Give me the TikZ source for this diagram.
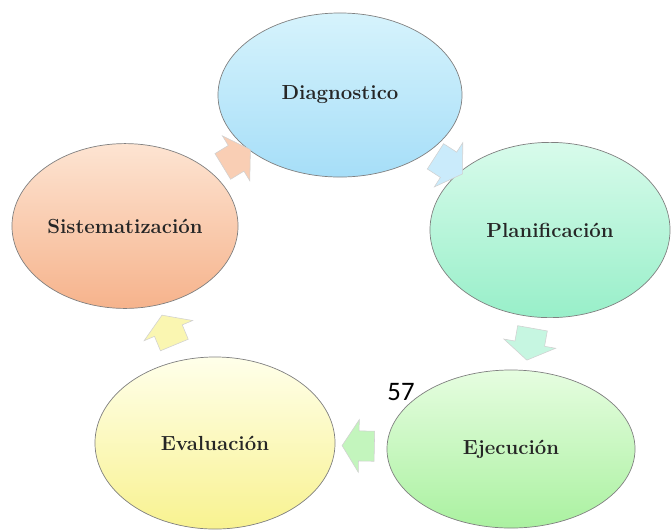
\documentclass[tikz,border=0pt]{standalone}
\usepackage{fontspec}
\newfontfamily\pagefont{Carlito}
\usetikzlibrary{shapes.geometric,shapes.arrows,calc}
\definecolor{diagtop}{HTML}{D6F3FC}
\definecolor{diagbot}{HTML}{A6DEF8}
\definecolor{plantop}{HTML}{D8FBEB}
\definecolor{planbot}{HTML}{98EFC9}
\definecolor{ejectop}{HTML}{E6FDE0}
\definecolor{ejecbot}{HTML}{AAF1A0}
\definecolor{evaltop}{HTML}{FFFFEA}
\definecolor{evalbot}{HTML}{F8F290}
\definecolor{sisttop}{HTML}{FDE4D2}
\definecolor{sistbot}{HTML}{F6B38C}
\tikzstyle{phase}=[ellipse, draw=black!50, line width=0.5pt, inner sep=0pt, font=\fontsize{14.5}{16}\selectfont\bfseries, text=black!85]
\tikzstyle{turn}=[single arrow, draw=black!18, line width=0.4pt, inner xsep=0pt, inner ysep=10.5pt, minimum height=23pt, single arrow head extend=8pt, single arrow tip angle=115]
\newcommand{\cyclearrow}[3]
{
  \path let \p1 = (#1.center), \p2 = (#2.center), \n1 = {atan2(\y2-\y1,\x2-\x1)} in node[turn, fill=#3, rotate=\n1] at (\x1/2+\x2/2, \y1/2+\y2/2) {};
}
\begin{document}
\begin{tikzpicture}[x=0.025cm, y=-0.025cm]
	\useasboundingbox (0,0) rectangle (671,529);

	\node[phase, minimum width=6.1cm, minimum height=4.1cm, top color=diagtop, bottom color=diagbot](diag) at (340,95){Diagnostico};
	\node[phase, minimum width=6.0cm, minimum height=4.38cm, top color=plantop, bottom color=planbot](plan) at (550,230){Planificación};
	\node[phase, minimum width=6.2cm, minimum height=3.95cm, top color=ejectop, bottom color=ejecbot](ejec) at (511,449){Ejecución};
	\node[phase, minimum width=6.0cm, minimum height=4.3cm, top color=evaltop, bottom color=evalbot](eval) at (215,443){Evaluación};
	\node[phase, minimum width=5.65cm, minimum height=4.12cm, top color=sisttop, bottom color=sistbot](sist) at (125,226){Sistematización};

	\cyclearrow{diag}{plan}{diagbot!60}
	\cyclearrow{plan}{ejec}{planbot!55}
	\cyclearrow{ejec}{eval}{ejecbot!70}
	\cyclearrow{eval}{sist}{evalbot!70}
	\cyclearrow{sist}{diag}{sistbot!65}

	\node[font=\pagefont\fontsize{19}{21}\selectfont, inner sep=0pt](pagenum) at (401,392){57};
\end{tikzpicture}
\end{document}
